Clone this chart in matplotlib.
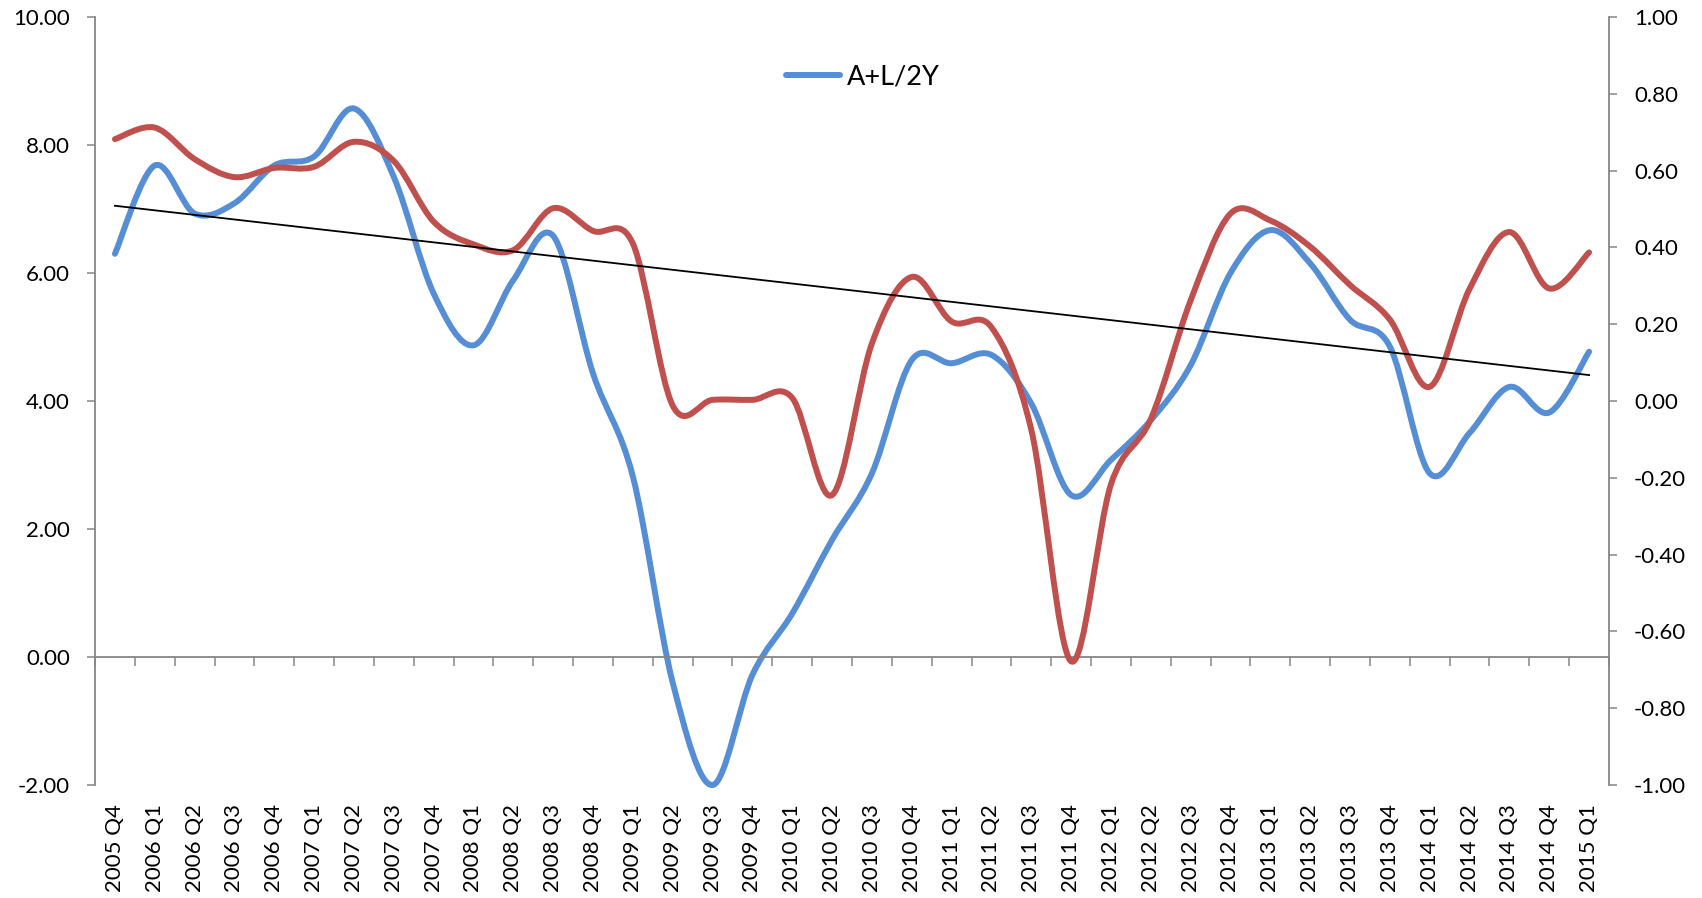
import numpy as np
import matplotlib
matplotlib.use('Agg')
import matplotlib.pyplot as plt
from matplotlib.path import Path
from matplotlib.patches import PathPatch
from matplotlib.lines import Line2D
from matplotlib.ticker import FuncFormatter

# ── data ─────────────────────────────────────────────────────────────────────
quarters = [
    '2005 Q4',
    '2006 Q1', '2006 Q2', '2006 Q3', '2006 Q4',
    '2007 Q1', '2007 Q2', '2007 Q3', '2007 Q4',
    '2008 Q1', '2008 Q2', '2008 Q3', '2008 Q4',
    '2009 Q1', '2009 Q2', '2009 Q3', '2009 Q4',
    '2010 Q1', '2010 Q2', '2010 Q3', '2010 Q4',
    '2011 Q1', '2011 Q2', '2011 Q3', '2011 Q4',
    '2012 Q1', '2012 Q2', '2012 Q3', '2012 Q4',
    '2013 Q1', '2013 Q2', '2013 Q3', '2013 Q4',
    '2014 Q1', '2014 Q2', '2014 Q3', '2014 Q4',
    '2015 Q1',
]

# A+L/2Y (left axis)
al_2y = [6.30, 7.68, 6.93, 7.09, 7.68, 7.82, 8.57, 7.50, 5.68, 4.87,
         5.89, 6.58, 4.43, 2.82, -0.40, -2.00, -0.28, 0.68, 1.83, 2.87,
         4.64, 4.59, 4.72, 3.96, 2.53, 3.08, 3.70, 4.56, 6.00, 6.67,
         6.15, 5.27, 4.85, 2.87, 3.50, 4.22, 3.82, 4.77]

# second series (right axis)
second = [0.682, 0.712, 0.630, 0.583, 0.607, 0.610, 0.675, 0.625, 0.467, 0.408,
          0.393, 0.502, 0.443, 0.410, -0.012, 0.003, 0.003, 0.008, -0.245, 0.150,
          0.323, 0.207, 0.192, -0.075, -0.678, -0.217, -0.047, 0.262, 0.488, 0.470,
          0.402, 0.302, 0.212, 0.037, 0.292, 0.440, 0.293, 0.387]

left_ticks = [-2, 0, 2, 4, 6, 8, 10]
right_ticks = [-1.0, -0.8, -0.6, -0.4, -0.2, 0.0, 0.2, 0.4, 0.6, 0.8, 1.0]

# ── style ────────────────────────────────────────────────────────────────────
C_BLUE = '#558ED5'
C_RED = '#C0504D'
AXIS_GREY = '#868686'
LINE_W = 4.3

plt.rcParams['font.family'] = ['Lato', 'DejaVu Sans']


def smooth_path(x, y):
    """Cardinal-spline Bezier through every point (spreadsheet 'smoothed line')."""
    pts = np.column_stack([x, y]).astype(float)
    padded = np.vstack([pts[:1], pts, pts[-1:]])
    verts = [pts[0]]
    codes = [Path.MOVETO]
    for i in range(len(pts) - 1):
        p0, p1, p2, p3 = padded[i], padded[i + 1], padded[i + 2], padded[i + 3]
        verts += [p1 + (p2 - p0) / 6.0, p2 - (p3 - p1) / 6.0, p2]
        codes += [Path.CURVE4] * 3
    return Path(verts, codes)


def fmt2(v, _pos):
    return f'{0.0 if abs(v) < 1e-9 else v:.2f}'


x = np.arange(len(quarters))

fig = plt.figure(figsize=(17.02, 8.98), dpi=100)
ax = fig.add_axes([95 / 1702, 1 - 785 / 898, (1609 - 95) / 1702, (785 - 17) / 898])
ax2 = ax.twinx()

ax.set_xlim(-0.5, len(quarters) - 0.5)
ax.set_ylim(-2, 10)
ax2.set_ylim(-1, 1)

# spines
for a in (ax, ax2):
    a.spines['top'].set_visible(False)
ax.spines['right'].set_visible(False)
ax2.spines['left'].set_visible(False)
ax2.spines['bottom'].set_visible(False)
ax.spines['bottom'].set_position(('data', 0))
for sp in (ax.spines['left'], ax.spines['bottom'], ax2.spines['right']):
    sp.set_color(AXIS_GREY)
    sp.set_linewidth(1.3)

# category axis: ticks on boundaries, labels at centres, low position
ax.set_xticks(np.arange(-0.5, len(quarters), 1.0))
ax.set_xticklabels([])
ax.set_xticks(x, quarters, minor=True)
ax.tick_params(axis='x', which='major', direction='out', length=6.5,
               width=1.1, color=AXIS_GREY)
ax.tick_params(axis='x', which='minor', length=0, pad=106, labelsize=16,
               labelrotation=90)

ax.set_yticks(left_ticks)
ax.yaxis.set_major_formatter(FuncFormatter(fmt2))
ax.tick_params(axis='y', direction='out', length=6, width=1.1,
               color=AXIS_GREY, pad=12, labelsize=16)

ax2.set_yticks(right_ticks)
ax2.yaxis.set_major_formatter(FuncFormatter(fmt2))
ax2.tick_params(axis='y', direction='out', length=6, width=1.1,
                color=AXIS_GREY, pad=12, labelsize=16)

# series
ax.add_patch(PathPatch(smooth_path(x, al_2y), fill=False, edgecolor=C_BLUE,
                       lw=LINE_W, capstyle='round', joinstyle='round',
                       clip_on=False))
ax2.add_patch(PathPatch(smooth_path(x, second), fill=False, edgecolor=C_RED,
                        lw=LINE_W, capstyle='round', joinstyle='round',
                        clip_on=False))

# linear trend of the right-axis series
coef = np.polyfit(x, second, 1)
ax2.plot(x, np.polyval(coef, x), color='black', lw=1.3)

handle = Line2D([], [], color=C_BLUE, lw=LINE_W, solid_capstyle='round')
fig.legend([handle], ['A+L/2Y'], loc='center',
           bbox_to_anchor=(863 / 1702, 1 - 77 / 898), frameon=False,
           fontsize=19.5, handlelength=2.0, handletextpad=0.25)

fig.savefig('out.png', dpi=100)
